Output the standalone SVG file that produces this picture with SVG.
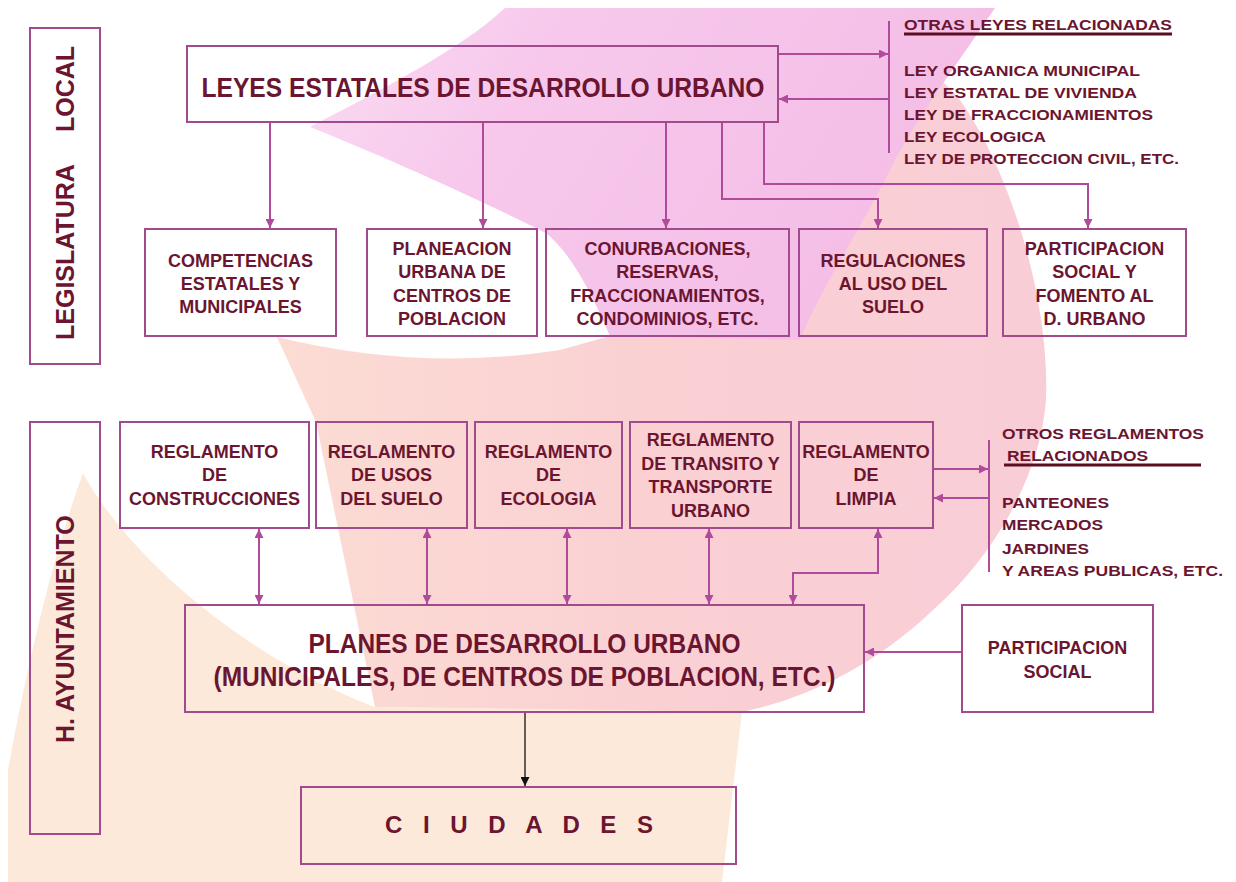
<svg xmlns="http://www.w3.org/2000/svg" width="1236" height="882" viewBox="0 0 1236 882">
<defs>
<style>
.box{fill:none;stroke:#a24a8e;stroke-width:2}
.t{font-family:"Liberation Sans",Arial,sans-serif;font-weight:bold;fill:#6b1530;text-anchor:middle;font-size:18px}
.big{font-size:27px}
.lst{font-family:"Liberation Sans",Arial,sans-serif;font-weight:bold;fill:#6b1530;font-size:15.5px}
.c{fill:none;stroke:#b04a9a;stroke-width:2}
.ul{stroke:#5a0f20;stroke-width:3}
</style>
<linearGradient id="pg" x1="0" y1="0" x2="1" y2="0.3">
<stop offset="0" stop-color="#fadcf2"/>
<stop offset="0.35" stop-color="#f7c8ec"/>
<stop offset="1" stop-color="#f4bde6"/>
</linearGradient>
<linearGradient id="sg" x1="0" y1="0" x2="1" y2="0">
<stop offset="0" stop-color="#fcdcd3"/>
<stop offset="0.5" stop-color="#fad0d3"/>
<stop offset="1" stop-color="#f9cdd6"/>
</linearGradient>
<marker id="ah" viewBox="0 0 10 10" refX="10" refY="5" markerWidth="9" markerHeight="9" markerUnits="userSpaceOnUse" orient="auto-start-reverse">
<path d="M0,0 L10,5 L0,10 z" fill="#b04a9a"/>
</marker>
<marker id="ahk" viewBox="0 0 10 10" refX="10" refY="5" markerWidth="9" markerHeight="9" markerUnits="userSpaceOnUse" orient="auto">
<path d="M0,0 L10,5 L0,10 z" fill="#111"/>
</marker>
</defs>

<g id="background">
<rect x="0" y="0" width="1236" height="882" fill="#ffffff"/>
<path d="M8 882 L8 770 C30 650 55 550 83 473 C130 560 250 660 375 707 L742 712 L722 882 Z" fill="#fde9d9"/>
<path d="M277 337 Q420 372 560 350 L610 336 C660 250 740 150 820 90 C880 50 930 60 960 100 C1010 170 1050 300 1046 400 C1040 480 990 560 933 610 C870 670 800 700 742 712 L375 707 L316 422 Z" fill="url(#sg)"/>
<path d="M505 8 L995 8 C960 60 915 120 890 170 C860 230 820 290 800 340 L610 336 C590 290 572 255 546 233 C470 195 380 155 310 127 C380 90 460 50 505 8 Z" fill="url(#pg)"/>
</g>

<g id="connectors">
<path class="c" d="M270 122 V228" marker-end="url(#ah)"/>
<path class="c" d="M483 122 V228" marker-end="url(#ah)"/>
<path class="c" d="M666 122 V228" marker-end="url(#ah)"/>
<path class="c" d="M722 122 V199 H878 V228" stroke-width="2.5" stroke="#a33a8e" marker-end="url(#ah)"/>
<path class="c" d="M764 122 V184 H1088 V228" stroke-width="2.5" stroke="#a33a8e" marker-end="url(#ah)"/>
<path class="c" d="M778 54 H888" marker-end="url(#ah)"/>
<path class="c" d="M889 99 H779" marker-end="url(#ah)"/>
<path class="c" d="M889 21 V153" stroke-width="2.5"/>
<path class="c" d="M933 469 H988" marker-end="url(#ah)"/>
<path class="c" d="M989 498 H934" marker-end="url(#ah)"/>
<path class="c" d="M989 440 V572"/>
<path class="c" d="M259 529 V604" marker-start="url(#ah)" marker-end="url(#ah)"/>
<path class="c" d="M427 529 V604" marker-start="url(#ah)" marker-end="url(#ah)"/>
<path class="c" d="M567 529 V604" marker-start="url(#ah)" marker-end="url(#ah)"/>
<path class="c" d="M709 529 V604" marker-start="url(#ah)" marker-end="url(#ah)"/>
<path class="c" d="M878 529 V573 H793 V604" marker-start="url(#ah)" marker-end="url(#ah)"/>
<path class="c" d="M962 652 H865" marker-end="url(#ah)"/>
<path d="M525 712 V786" fill="none" stroke="#111" stroke-width="1.3" marker-end="url(#ahk)"/>
</g>

<g id="legislatura-local">
<rect class="box" x="30" y="28" width="70" height="336"/>
<text class="t" style="font-size:25px;text-anchor:start" transform="translate(74,340) rotate(-90)"><tspan x="0" y="0">LEGISLATURA</tspan><tspan x="208" y="0">LOCAL</tspan></text>
</g>

<g id="h-ayuntamiento">
<rect class="box" x="30" y="422" width="70" height="412"/>
<text class="t" style="font-size:25px;text-anchor:start" transform="translate(74,743) rotate(-90)" x="0" y="0">H. AYUNTAMIENTO</text>
</g>

<g id="leyes-estatales">
<rect class="box" x="187" y="46" width="591" height="76"/>
<text class="t big" x="483" y="97" textLength="563" lengthAdjust="spacingAndGlyphs">LEYES ESTATALES DE DESARROLLO URBANO</text>
</g>

<g id="otras-leyes">
<text class="lst" x="904" y="30" textLength="268" lengthAdjust="spacingAndGlyphs">OTRAS LEYES RELACIONADAS</text>
<line class="ul" x1="904" y1="34" x2="1172" y2="34"/>
<text class="lst" x="904" y="76" textLength="236" lengthAdjust="spacingAndGlyphs">LEY ORGANICA MUNICIPAL</text>
<text class="lst" x="904" y="98" textLength="233" lengthAdjust="spacingAndGlyphs">LEY ESTATAL DE VIVIENDA</text>
<text class="lst" x="904" y="120" textLength="249" lengthAdjust="spacingAndGlyphs">LEY DE FRACCIONAMIENTOS</text>
<text class="lst" x="904" y="142" textLength="142" lengthAdjust="spacingAndGlyphs">LEY ECOLOGICA</text>
<text class="lst" x="904" y="164" textLength="275" lengthAdjust="spacingAndGlyphs">LEY DE PROTECCION CIVIL, ETC.</text>
</g>

<g id="competencias">
<rect class="box" x="145" y="229" width="191" height="107"/>
<text class="t" x="240.5" y="266.5">COMPETENCIAS</text>
<text class="t" x="240.5" y="289.5">ESTATALES Y</text>
<text class="t" x="240.5" y="312.5">MUNICIPALES</text>
</g>

<g id="planeacion">
<rect class="box" x="367" y="229" width="170" height="107"/>
<text class="t" x="452" y="254.5">PLANEACION</text>
<text class="t" x="452" y="278">URBANA DE</text>
<text class="t" x="452" y="301.5">CENTROS DE</text>
<text class="t" x="452" y="325">POBLACION</text>
</g>

<g id="conurbaciones">
<rect class="box" x="546" y="229" width="243" height="107"/>
<text class="t" x="667.5" y="254.5">CONURBACIONES,</text>
<text class="t" x="667.5" y="278">RESERVAS,</text>
<text class="t" x="667.5" y="301.5">FRACCIONAMIENTOS,</text>
<text class="t" x="667.5" y="325">CONDOMINIOS, ETC.</text>
</g>

<g id="regulaciones">
<rect class="box" x="799" y="229" width="188" height="107"/>
<text class="t" x="893" y="266.5">REGULACIONES</text>
<text class="t" x="893" y="289.5">AL USO DEL</text>
<text class="t" x="893" y="312.5">SUELO</text>
</g>

<g id="participacion-fomento">
<rect class="box" x="1003" y="229" width="183" height="107"/>
<text class="t" x="1094.5" y="254.5">PARTICIPACION</text>
<text class="t" x="1094.5" y="278">SOCIAL Y</text>
<text class="t" x="1094.5" y="301.5">FOMENTO AL</text>
<text class="t" x="1094.5" y="325">D. URBANO</text>
</g>

<g id="reg-construcciones">
<rect class="box" x="120" y="422" width="189" height="106"/>
<text class="t" x="214.5" y="457.5">REGLAMENTO</text>
<text class="t" x="214.5" y="481">DE</text>
<text class="t" x="214.5" y="504.5">CONSTRUCCIONES</text>
</g>

<g id="reg-usos-suelo">
<rect class="box" x="316" y="422" width="151" height="106"/>
<text class="t" x="391.5" y="457.5">REGLAMENTO</text>
<text class="t" x="391.5" y="481">DE USOS</text>
<text class="t" x="391.5" y="504.5">DEL SUELO</text>
</g>

<g id="reg-ecologia">
<rect class="box" x="475" y="422" width="147" height="106"/>
<text class="t" x="548.5" y="457.5">REGLAMENTO</text>
<text class="t" x="548.5" y="481">DE</text>
<text class="t" x="548.5" y="504.5">ECOLOGIA</text>
</g>

<g id="reg-transito">
<rect class="box" x="630" y="422" width="161" height="106"/>
<text class="t" x="710.5" y="446">REGLAMENTO</text>
<text class="t" x="710.5" y="469.5">DE TRANSITO Y</text>
<text class="t" x="710.5" y="493">TRANSPORTE</text>
<text class="t" x="710.5" y="516.5">URBANO</text>
</g>

<g id="reg-limpia">
<rect class="box" x="799" y="422" width="134" height="106"/>
<text class="t" x="866" y="457.5">REGLAMENTO</text>
<text class="t" x="866" y="481">DE</text>
<text class="t" x="866" y="504.5">LIMPIA</text>
</g>

<g id="otros-reglamentos">
<text class="lst" x="1002" y="439" textLength="202" lengthAdjust="spacingAndGlyphs">OTROS REGLAMENTOS</text>
<text class="lst" x="1007" y="461" textLength="141" lengthAdjust="spacingAndGlyphs">RELACIONADOS</text>
<line class="ul" x1="1004" y1="465" x2="1201" y2="465"/>
<text class="lst" x="1002" y="508" textLength="107" lengthAdjust="spacingAndGlyphs">PANTEONES</text>
<text class="lst" x="1002" y="530" textLength="101" lengthAdjust="spacingAndGlyphs">MERCADOS</text>
<text class="lst" x="1002" y="554" textLength="87" lengthAdjust="spacingAndGlyphs">JARDINES</text>
<text class="lst" x="1002" y="576" textLength="221" lengthAdjust="spacingAndGlyphs">Y AREAS PUBLICAS, ETC.</text>
</g>

<g id="planes">
<rect class="box" x="185" y="605" width="679" height="107"/>
<text class="t big" x="524.5" y="653" textLength="432" lengthAdjust="spacingAndGlyphs">PLANES DE DESARROLLO URBANO</text>
<text class="t big" x="524.5" y="686" textLength="622" lengthAdjust="spacingAndGlyphs">(MUNICIPALES, DE CENTROS DE POBLACION, ETC.)</text>
</g>

<g id="participacion-social">
<rect class="box" x="962" y="605" width="191" height="107"/>
<text class="t" x="1057.5" y="653.5">PARTICIPACION</text>
<text class="t" x="1057.5" y="677.5">SOCIAL</text>
</g>

<g id="ciudades">
<rect class="box" x="301" y="787" width="435" height="77"/>
<text class="t" style="font-size:24px;text-anchor:start" x="385" y="833" textLength="268" lengthAdjust="spacing">C I U D A D E S</text>
</g>
</svg>
